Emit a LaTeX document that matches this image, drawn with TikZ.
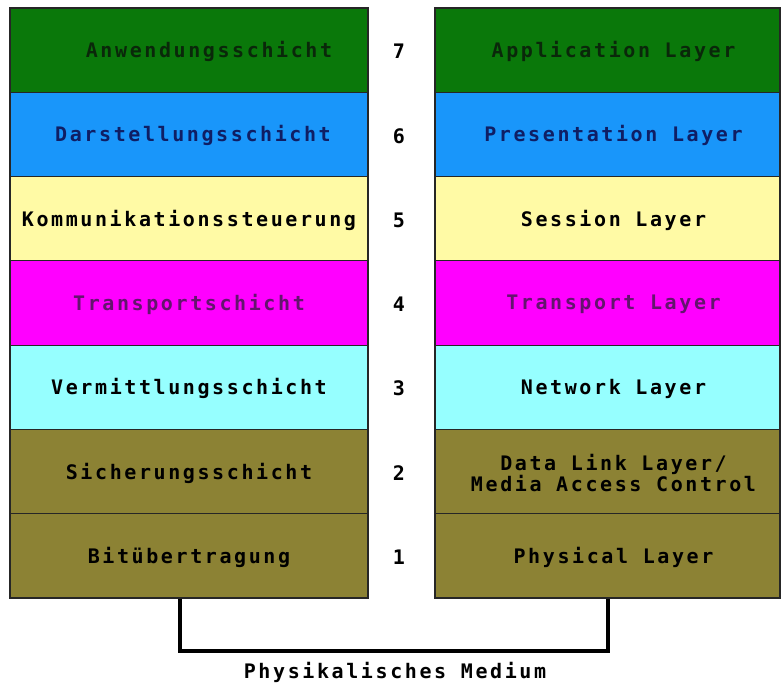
\documentclass[tikz,border=0pt]{standalone}
\usepackage{fontspec}
\newfontfamily\pixelfont[LetterSpace=13]{DejaVu Sans Mono}
\definecolor{gruen}{RGB}{10,120,10}
\definecolor{blau}{RGB}{25,150,250}
\definecolor{gelb}{RGB}{255,250,165}
\definecolor{pink}{RGB}{255,0,255}
\definecolor{hellblau}{RGB}{150,255,255}
\definecolor{oliv}{RGB}{140,130,52}
\definecolor{dunkelgruen}{RGB}{10,40,10}
\definecolor{navy}{RGB}{15,30,100}
\definecolor{lila}{RGB}{100,20,110}
\tikzset{
  layerbox/.style={draw=black!85, line width=0.9pt, minimum width=268.5pt,
    minimum height=63.2pt, inner sep=0pt},
  layertext/.style={font=\pixelfont\bfseries\fontsize{15pt}{15pt}\selectfont,
    align=center, inner sep=0pt},
  medium/.style={line width=3pt}
}
\newcommand{\schicht}[6][0pt]{
  % one layer: German box, number, English box
  \pgfmathsetmacro{\ymid}{50.1 + (7-#2)*84.3}
  \node[layerbox, fill=#3] (de#2) at (189, \ymid) {};
  \node[layertext, text=#4, xshift=#1, yshift=-1pt] (deT#2) at (de#2) {#5};
  \node[layertext, yshift=-1pt] (nr#2) at (399, \ymid) {#2};
  \node[layerbox, minimum width=258.75pt, fill=#3] (en#2) at (607.5, \ymid) {};
  \node[layertext, text=#4, xshift=4.5pt, yshift=-1pt] (enT#2) at (en#2) {#6};
}
\begin{document}
\begin{tikzpicture}[x=0.75pt, y=-0.75pt]
\useasboundingbox (0, 0) rectangle (782, 683);
\schicht[15pt]{7}{gruen}{dunkelgruen}{Anwendungsschicht}{Application Layer}
\schicht[3pt]{6}{blau}{navy}{Darstellungsschicht}{Presentation Layer}
\schicht{5}{gelb}{black}{Kommunikationssteuerung}{Session Layer}
\schicht{4}{pink}{lila}{Transportschicht}{Transport Layer}
\schicht{3}{hellblau}{black}{Vermittlungsschicht}{Network Layer}
\schicht{2}{oliv}{black}{Sicherungsschicht}{Data Link Layer/\\Media Access Control}
\schicht{1}{oliv}{black}{Bitübertragung}{Physical Layer}

\draw[medium] ([xshift=-6.75pt]de1.south) -- ++(0, 52) -| (en1.south);
\node[layertext] (medname) at (395, 672) {Physikalisches Medium};
\end{tikzpicture}
\end{document}
